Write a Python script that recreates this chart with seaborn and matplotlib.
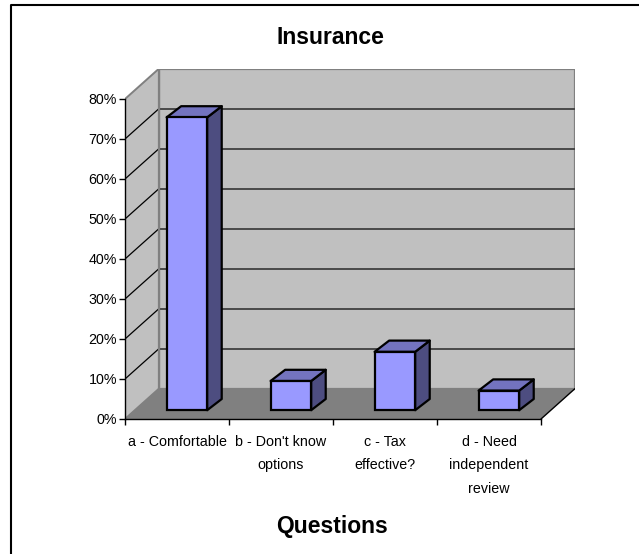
import matplotlib
matplotlib.use("Agg")
import matplotlib.pyplot as plt
from matplotlib.patches import Polygon
from matplotlib.lines import Line2D
import seaborn as sns
import pandas as pd

# Survey answers (share of respondents)
categories = ["a - Comfortable", "b - Don't know\noptions", "c - Tax\neffective?",
              "d - Need\nindependent\nreview"]
values = [73.2, 7.3, 14.6, 4.9]
yticks = [0, 10, 20, 30, 40, 50, 60, 70, 80]
ytick_labels = [f"{v}%" for v in yticks]
title = "Insurance"
xlabel = "Questions"

sns.set_style("white")
plt.rcParams["font.family"] = ["Liberation Sans", "DejaVu Sans"]

W, H = 639, 554
fig = plt.figure(figsize=(W / 100, H / 100), dpi=100)

# pseudo-3D depth of the plot box (data units: categories, percent)
DX, DY = 0.327, 7.6
# depth position of the bar front faces and depth of each bar
Z0X, Z0Y = 0.095, 2.2
BDX, BDY = 0.14, 2.8
YMAX = yticks[-1]

ax = fig.add_axes([125 / W, (H - 419) / H, (4 + DX) * 104 / W, (YMAX + DY) * 4 / H])
ax.patch.set_visible(False)

df = pd.DataFrame({"question": categories, "share": values})
sns.barplot(data=df, x="question", y="share", color="#9999FF", saturation=1,
            width=0.39, edgecolor="black", linewidth=1.6, ax=ax, zorder=5)

top_c = "#7373BF"
side_c = "#4D4D80"
for p in list(ax.patches):
    p.set_x(p.get_x() + Z0X)
    p.set_y(p.get_y() + Z0Y)
    x0, y0 = p.get_x(), p.get_y()
    x1, y1 = x0 + p.get_width(), y0 + p.get_height()
    side = Polygon([(x1, y0), (x1, y1), (x1 + BDX, y1 + BDY), (x1 + BDX, y0 + BDY)],
                   closed=True, facecolor=side_c, edgecolor="black", lw=1.6,
                   joinstyle="round", zorder=4)
    top = Polygon([(x0, y1), (x1, y1), (x1 + BDX, y1 + BDY), (x0 + BDX, y1 + BDY)],
                  closed=True, facecolor=top_c, edgecolor="black", lw=1.6,
                  joinstyle="round", zorder=4)
    ax.add_patch(side)
    ax.add_patch(top)

# walls and floor
L, R = -0.5, 3.5
back = Polygon([(L + DX, DY), (R + DX, DY), (R + DX, YMAX + DY), (L + DX, YMAX + DY)],
               closed=True, facecolor="#C0C0C0", edgecolor="#808080", lw=1.6, zorder=0.5)
left = Polygon([(L, 0), (L, YMAX), (L + DX, YMAX + DY), (L + DX, DY)],
               closed=True, facecolor="#C0C0C0", edgecolor="#808080", lw=1.4, zorder=0.5)
floor = Polygon([(L, 0), (R, 0), (R + DX, DY), (L + DX, DY)],
                closed=True, facecolor="#808080", edgecolor="none", zorder=0.6)
ax.add_patch(back)
ax.add_patch(left)
ax.add_patch(floor)
ax.add_line(Line2D([R, R + DX], [0, DY], color="black", lw=1.0, zorder=0.8))

for v in yticks[1:-1]:
    ax.add_line(Line2D([L + DX, R + DX], [v + DY, v + DY], color="#404040", lw=1.3, zorder=0.7))
    ax.add_line(Line2D([L, L + DX], [v, v + DY], color="black", lw=0.9, zorder=0.7))
ax.add_line(Line2D([L + DX, L + DX], [DY, YMAX + DY], color="#808080", lw=1.6, zorder=0.8))

ax.set_xlim(L, R + DX)
ax.set_ylim(0, YMAX + DY)

for s in ["top", "right"]:
    ax.spines[s].set_visible(False)
ax.spines["left"].set_bounds(0, YMAX)
ax.spines["bottom"].set_bounds(L, R)
for s in ["left", "bottom"]:
    ax.spines[s].set_color("black")
    ax.spines[s].set_linewidth(1.0)
    ax.spines[s].set_zorder(3)

ax.set_yticks(yticks, labels=ytick_labels)
ax.tick_params(axis="y", direction="out", length=4.3, width=1, color="black",
               pad=1.5, labelsize=10.3, labelcolor="black", left=True)

ax.set_xticks(range(len(categories)), labels=categories, linespacing=1.85)
ax.set_xticks([L + i for i in range(len(categories) + 1)], minor=True)
ax.tick_params(axis="x", which="major", length=0, pad=11.5, labelsize=10.3, labelcolor="black")
ax.tick_params(axis="x", which="minor", direction="out", length=4.3, width=1,
               color="black", bottom=True)
ax.set_xlabel("")
ax.set_ylabel("")

fig.text(330 / W, 1 - 44 / H, title, ha="center", va="baseline",
         fontsize=16.5, fontweight="bold", color="black")
fig.text(332 / W, 1 - 533 / H, xlabel, ha="center", va="baseline",
         fontsize=16.5, fontweight="bold", color="black")

# chart frame
fig.add_artist(Line2D([11 / W, 11 / W, 1], [0, 1 - 5 / H, 1 - 5 / H],
                      transform=fig.transFigure, color="black", lw=1.5))

fig.savefig("out.png", dpi=100)
